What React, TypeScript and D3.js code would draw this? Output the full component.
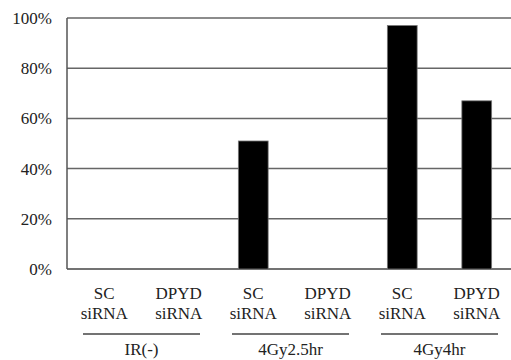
import React, { useEffect, useRef } from "react";
import * as d3 from "d3";

const categories = ["IR-SC", "IR-DPYD", "25-SC", "25-DPYD", "4-SC", "4-DPYD"];
const topLabels = ["SC", "DPYD", "SC", "DPYD", "SC", "DPYD"];
const values = [0, 0, 51, 0, 97, 67];
const groups = ["IR(-)", "4Gy2.5hr", "4Gy4hr"];
const yTicks = [0, 20, 40, 60, 80, 100];

const W = 511;
const H = 360;

const App = () => {
  const svgRef = useRef<SVGSVGElement | null>(null);

  useEffect(() => {
    const svg = d3.select(svgRef.current);
    svg.selectAll("*").remove();

    const margin = { top: 18, right: -3, bottom: 91, left: 67 };
    const x = d3
      .scaleBand<string>()
      .domain(categories)
      .range([margin.left, W - margin.right])
      .paddingInner(0.6)
      .paddingOuter(0.3);
    const y = d3.scaleLinear().domain([0, 100]).range([H - margin.bottom, margin.top]);
    const font = "Liberation Serif, DejaVu Serif, Times New Roman, serif";

    // gridlines
    svg
      .append("g")
      .selectAll("line")
      .data(yTicks)
      .join("line")
      .attr("x1", margin.left)
      .attr("x2", W)
      .attr("y1", (d) => y(d))
      .attr("y2", (d) => y(d))
      .attr("stroke", (d) => (d === 0 ? "#444" : "#666"))
      .attr("stroke-width", 1.5);

    // y axis line
    svg
      .append("line")
      .attr("x1", margin.left)
      .attr("x2", margin.left)
      .attr("y1", y(100))
      .attr("y2", y(0))
      .attr("stroke", "#555")
      .attr("stroke-width", 1.5);

    // y tick labels
    svg
      .append("g")
      .selectAll("text")
      .data(yTicks)
      .join("text")
      .attr("x", 52)
      .attr("y", (d) => y(d) + 6)
      .attr("text-anchor", "end")
      .attr("font-family", font)
      .attr("font-size", 17)
      .attr("fill", "#222")
      .text((d) => `${d}%`);

    // bars
    svg
      .append("g")
      .selectAll("rect")
      .data(categories.map((c, i) => ({ c, v: values[i] })).filter((d) => d.v > 0))
      .join("rect")
      .attr("x", (d) => x(d.c)!)
      .attr("width", x.bandwidth())
      .attr("y", (d) => y(d.v))
      .attr("height", (d) => y(0) - y(d.v))
      .attr("fill", "#000")
      .attr("stroke", "#777")
      .attr("stroke-width", 0.8);

    // category labels
    const labels = svg.append("g").attr("font-family", font).attr("font-size", 17).attr("fill", "#222");
    categories.forEach((c, i) => {
      const cx = x(c)! + x.bandwidth() / 2;
      labels
        .append("text")
        .attr("x", cx)
        .attr("y", 299)
        .attr("text-anchor", "middle")
        .text(topLabels[i]);
      labels
        .append("text")
        .attr("x", cx)
        .attr("y", 319)
        .attr("text-anchor", "middle")
        .text("siRNA");
    });

    // group lines and labels
    groups.forEach((g, i) => {
      const a = x(categories[i * 2])! + x.bandwidth() / 2;
      const b = x(categories[i * 2 + 1])! + x.bandwidth() / 2;
      const mid = (a + b) / 2;
      svg
        .append("line")
        .attr("x1", mid - 58.5)
        .attr("x2", mid + 58.5)
        .attr("y1", 334)
        .attr("y2", 334)
        .attr("stroke", "#444")
        .attr("stroke-width", 1.5);
      svg
        .append("text")
        .attr("x", mid)
        .attr("y", 355)
        .attr("text-anchor", "middle")
        .attr("font-family", font)
        .attr("font-size", 17)
        .attr("fill", "#222")
        .text(g);
    });
  }, []);

  return (
    <svg
      ref={svgRef}
      width={W}
      height={H}
      style={{ position: "absolute", left: 0, top: 0, background: "#fff", display: "block" }}
    />
  );
};

export default App;
